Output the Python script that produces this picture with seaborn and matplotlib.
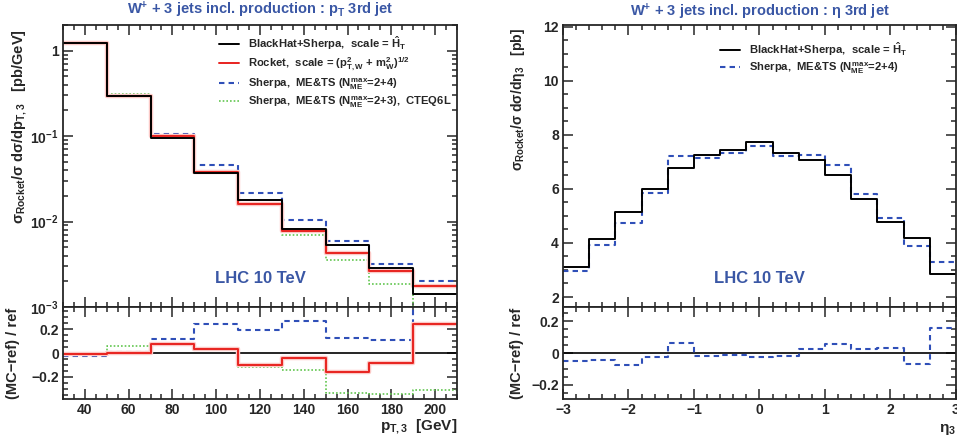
import numpy as np
import pandas as pd
import seaborn as sns
import matplotlib
matplotlib.use("Agg")
import matplotlib.pyplot as plt
from matplotlib.ticker import MultipleLocator, LogLocator, FuncFormatter, NullFormatter

# ---- data ----
pt_edges = [30, 50, 70, 90, 110, 130, 150, 170, 190, 210]
pt_blackhat = [1.24, 0.295, 0.095, 0.037, 0.0179, 0.0081, 0.00527, 0.00288, 0.00142]
pt_rocket = [1.24, 0.295, 0.100, 0.038, 0.0160, 0.0078, 0.00432, 0.00263, 0.00175]
pt_sherpa24 = [1.22, 0.298, 0.107, 0.0456, 0.0214, 0.0104, 0.00593, 0.00316, 0.00200]
pt_sherpa23 = [1.24, 0.310, 0.103, 0.038, 0.0157, 0.00697, 0.00352, 0.00186, 0.00095]

pt_ratio_rocket = [-0.005, 0.0, 0.078, 0.033, -0.10, -0.04, -0.16, -0.087, 0.24]
pt_ratio_sherpa24 = [-0.027, 0.01, 0.12, 0.24, 0.19, 0.27, 0.125, 0.11, 0.41]
pt_ratio_sherpa23 = [-0.005, 0.055, 0.063, 0.03, -0.117, -0.142, -0.333, -0.347, -0.31]

eta_edges = [-3.0, -2.6, -2.2, -1.8, -1.4, -1.0, -0.6, -0.2, 0.2, 0.6, 1.0, 1.4, 1.8, 2.2, 2.6, 3.0]
eta_blackhat = [3.12, 4.15, 5.16, 6.00, 6.78, 7.25, 7.42, 7.73, 7.32, 7.08, 6.52, 5.63, 4.76, 4.17, 2.85]
eta_sherpa24 = [2.95, 3.94, 4.75, 5.86, 7.20, 7.13, 7.32, 7.57, 7.21, 7.24, 6.87, 5.80, 4.93, 3.87, 3.31]
eta_ratio_sherpa24 = [-0.052, -0.046, -0.078, -0.027, 0.062, -0.021, -0.013, -0.024, -0.017,
                      0.025, 0.058, 0.025, 0.033, -0.07, 0.158]

lbl_bh = r"BlackHat+Sherpa,  scale = $\hat{H}_T$"
lbl_rocket = r"Rocket,  scale = $(p^2_{T,W}$ + $m^2_W)^{1/2}$"
lbl_s24 = r"Sherpa,  ME&TS ($N^{\rm max}_{\rm ME}$=2+4)"
lbl_s23 = r"Sherpa,  ME&TS ($N^{\rm max}_{\rm ME}$=2+3),  CTEQ6L"

BLUE_TXT = "#3a57a5"
C_BLACK = "black"
C_RED = "#e8231f"
C_BAND = "#fbc9c6"
C_BLUE = "#2f4fb8"
C_GREEN = "#62c650"
DASH = (0, (2.6, 2))
DOT = (0, (1, 1.2))

sns.set_style("ticks")
plt.rcParams['font.family'] = ['Liberation Sans', 'DejaVu Sans']
plt.rcParams['font.weight'] = 'bold'
plt.rcParams['mathtext.fontset'] = 'custom'
plt.rcParams['mathtext.rm'] = 'Liberation Sans:bold'
plt.rcParams['mathtext.it'] = 'Liberation Sans:bold'
plt.rcParams['mathtext.bf'] = 'Liberation Sans:bold'
plt.rcParams['axes.linewidth'] = 1.3


def step_df(edges, values):
    return pd.DataFrame({'x': edges, 'y': list(values) + [values[-1]]})


def draw_step(ax, edges, values, **kws):
    sns.lineplot(data=step_df(edges, values), x='x', y='y', ax=ax, drawstyle='steps-post',
                 estimator=None, sort=False, **kws)


def style_axis(ax, xmaj, xmin, ymaj=None, ymin=None):
    ax.xaxis.set_major_locator(MultipleLocator(xmaj))
    ax.xaxis.set_minor_locator(MultipleLocator(xmin))
    if ymaj is not None:
        ax.yaxis.set_major_locator(MultipleLocator(ymaj))
        ax.yaxis.set_minor_locator(MultipleLocator(ymin))
    ax.tick_params(which='both', direction='in', top=True, right=True, width=1.1)
    ax.tick_params(which='major', length=7, labelsize=10, pad=3)
    ax.tick_params(which='minor', length=3.5)


def log_fmt(v, pos):
    e = int(round(np.log10(v)))
    if e == 0:
        return "1"
    return r"$10^{%d}$" % e


def plain_fmt(v, pos):
    s = "%g" % round(v, 6)
    return s.replace("-", "\u2212")


fig = plt.figure(figsize=(9.57, 4.48), dpi=100)

# ---------- left: pT of 3rd jet ----------
axL = fig.add_axes([0.0658, 0.3147, 0.4117, 0.6295])
axLr = fig.add_axes([0.0658, 0.1094, 0.4117, 0.2053])

axL.set_yscale('log')
draw_step(axL, pt_edges, pt_sherpa23, color=C_GREEN, lw=1.2, ls=DOT, label=lbl_s23)
draw_step(axL, pt_edges, pt_sherpa24, color=C_BLUE, lw=1.5, ls=DASH, label=lbl_s24)
draw_step(axL, pt_edges, pt_rocket, color=C_BAND, lw=3.2, label='_nolegend_')
draw_step(axL, pt_edges, pt_rocket, color=C_RED, lw=1.4, label=lbl_rocket)
draw_step(axL, pt_edges, pt_blackhat, color=C_BLACK, lw=1.4, label=lbl_bh)
axL.set_xlim(30, 210)
axL.set_ylim(1e-3, 2.0)
style_axis(axL, 20, 5)
axL.yaxis.set_major_locator(LogLocator(base=10))
axL.yaxis.set_minor_locator(LogLocator(base=10, subs=np.arange(2, 10)))
axL.yaxis.set_major_formatter(FuncFormatter(log_fmt))
axL.yaxis.set_minor_formatter(NullFormatter())
axL.tick_params(labelbottom=False)
axL.set_xlabel("")
axL.set_ylabel(r"$\sigma_{\rm Rocket}/\sigma$ $d\sigma/dp_{T,3}$   [pb/GeV]", fontsize=10.5,
               fontweight='bold', loc='top')
axL.yaxis.set_label_coords(-0.085, 0.985)

h, l = axL.get_legend_handles_labels()
order = [l.index(lbl_bh), l.index(lbl_rocket), l.index(lbl_s24), l.index(lbl_s23)]
axL.legend([h[i] for i in order], [l[i] for i in order], loc='upper left',
           bbox_to_anchor=(0.395, 0.965), frameon=False, borderpad=0,
           borderaxespad=0, handlelength=1.8, handletextpad=0.8, labelspacing=0.28,
           prop={'weight': 'bold', 'size': 8.1})
axL.text(0.5, 0.10, "LHC 10 TeV", transform=axL.transAxes, ha='center', va='center',
         color=BLUE_TXT, fontsize=12, fontweight='bold')

axLr.axhline(0, color=C_BLACK, lw=1.2)
draw_step(axLr, pt_edges, pt_ratio_sherpa23, color=C_GREEN, lw=1.2, ls=DOT)
draw_step(axLr, pt_edges, pt_ratio_sherpa24, color=C_BLUE, lw=1.5, ls=DASH)
draw_step(axLr, pt_edges, pt_ratio_rocket, color=C_BAND, lw=3.2)
draw_step(axLr, pt_edges, pt_ratio_rocket, color=C_RED, lw=1.4)
axLr.set_xlim(30, 210)
axLr.set_ylim(-0.385, 0.385)
style_axis(axLr, 20, 5, 0.2, 0.05)
axLr.yaxis.set_major_formatter(FuncFormatter(plain_fmt))
axLr.set_ylabel("(MC−ref) / ref", fontsize=10.5, fontweight='bold')
axLr.yaxis.set_label_coords(-0.108, 0.5)
axLr.set_xlabel(r"$p_{T,3}$  [GeV]", fontsize=11, fontweight='bold', loc='right')
axLr.xaxis.set_label_coords(1.0, -0.2)

fig.text(260 / 957, 1 - 10 / 448, r"W$^{+}$ + 3 jets incl. production : p$_{T}$ 3rd jet",
         ha='center', va='center', color=BLUE_TXT, fontsize=10.5, fontweight='bold')

# ---------- right: eta of 3rd jet ----------
axR = fig.add_axes([0.5883, 0.3147, 0.4106, 0.6295])
axRr = fig.add_axes([0.5883, 0.1094, 0.4106, 0.2053])

draw_step(axR, eta_edges, eta_sherpa24, color=C_BLUE, lw=1.5, ls=DASH, label=lbl_s24)
draw_step(axR, eta_edges, eta_blackhat, color=C_BLACK, lw=1.4, label=lbl_bh)
axR.set_xlim(-3, 3)
axR.set_ylim(1.63, 12.06)
style_axis(axR, 1, 0.2, 2, 0.5)
axR.tick_params(labelbottom=False)
axR.set_xlabel("")
axR.set_ylabel(r"$\sigma_{\rm Rocket}/\sigma$ $d\sigma/d\eta_{3}$   [pb]", fontsize=10,
               fontweight='bold', loc='top')
axR.yaxis.set_label_coords(-0.092, 0.99)
h, l = axR.get_legend_handles_labels()
axR.legend([h[1], h[0]], [l[1], l[0]], loc='upper left', bbox_to_anchor=(0.4, 0.945),
           frameon=False, borderpad=0, borderaxespad=0, handlelength=1.8,
           handletextpad=0.8, labelspacing=0.25, prop={'weight': 'bold', 'size': 8.1})
axR.text(0.5, 0.10, "LHC 10 TeV", transform=axR.transAxes, ha='center', va='center',
         color=BLUE_TXT, fontsize=12, fontweight='bold')

axRr.axhline(0, color=C_BLACK, lw=1.2)
draw_step(axRr, eta_edges, eta_ratio_sherpa24, color=C_BLUE, lw=1.5, ls=DASH)
axRr.set_xlim(-3, 3)
axRr.set_ylim(-0.29, 0.29)
style_axis(axRr, 1, 0.2, 0.2, 0.05)
axRr.xaxis.set_major_formatter(FuncFormatter(plain_fmt))
axRr.yaxis.set_major_formatter(FuncFormatter(plain_fmt))
axRr.set_ylabel("(MC−ref) / ref", fontsize=10.5, fontweight='bold')
axRr.yaxis.set_label_coords(-0.098, 0.5)
axRr.set_xlabel(r"$\eta_{3}$", fontsize=11, loc='right')
axRr.xaxis.set_label_coords(1.0, -0.25)

fig.text(760 / 957, 1 - 12 / 448, r"W$^{+}$ + 3 jets incl. production : η 3rd jet",
         ha='center', va='center', color=BLUE_TXT, fontsize=10.5, fontweight='bold')

fig.savefig("out.png", dpi=100)
plt.close(fig)
